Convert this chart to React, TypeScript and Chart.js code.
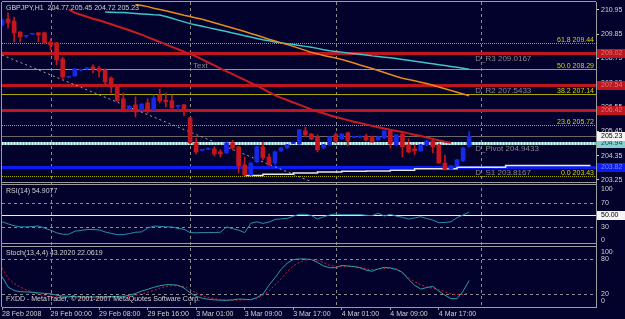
import React, { useEffect, useRef } from 'react';
import { Chart, registerables } from 'chart.js';

Chart.register(...registerables);

// ---------------- data ----------------
const SYMBOL = 'GBPJPY,H1';

const OPEN = [210.27, 210.54, 210.45, 209.95, 209.76, 209.85, 209.91, 209.91, 209.50, 209.46,
  208.73, 207.90, 207.96, 208.22, 208.28, 208.37, 208.32, 208.23, 207.87, 207.46,
  206.92, 206.47, 206.65, 206.42, 206.74, 206.42, 207.10, 206.87, 206.83, 206.58,
  206.65, 206.06, 204.93, 204.59, 204.64, 204.66, 204.52, 204.47, 204.93, 204.75,
  203.93, 203.48, 204.07, 204.75, 204.29, 204.02, 204.56, 204.70, 204.91, 204.88,
  205.47, 205.33, 205.20, 204.70, 204.84, 205.29, 205.11, 205.38, 205.18, 205.19,
  205.24, 205.20, 205.06, 205.15, 205.47, 204.84, 205.33, 204.84, 204.66, 204.56,
  204.84, 205.02, 204.84, 204.02, 203.75, 203.89, 204.11, 204.77];
const HIGH = [210.54, 210.81, 210.63, 209.97, 209.80, 209.88, 209.93, 209.95, 209.64, 209.47,
  208.82, 207.96, 208.30, 208.27, 208.34, 208.46, 208.41, 208.28, 207.92, 207.50,
  207.19, 206.62, 207.01, 206.71, 206.92, 207.10, 207.37, 207.19, 207.10, 206.64,
  206.67, 206.08, 205.15, 204.65, 204.70, 204.75, 204.61, 204.95, 205.06, 204.79,
  204.29, 204.04, 204.77, 204.97, 204.43, 204.56, 204.72, 204.86, 204.96, 205.54,
  205.65, 205.36, 205.29, 204.86, 205.22, 205.38, 205.35, 205.42, 205.23, 205.24,
  205.33, 205.22, 205.22, 205.49, 205.52, 205.31, 205.42, 205.11, 204.84, 204.86,
  205.04, 205.15, 204.88, 204.38, 203.91, 204.18, 204.72, 205.45];
const LOW = [210.22, 210.13, 209.50, 209.50, 209.70, 209.83, 209.50, 209.41, 209.14, 208.46,
  207.78, 207.88, 207.94, 208.20, 208.26, 208.10, 207.92, 207.55, 207.19, 206.81,
  206.33, 206.45, 206.10, 206.40, 206.28, 206.40, 206.74, 206.56, 206.49, 206.42,
  206.15, 204.88, 204.43, 204.57, 204.62, 204.34, 204.29, 204.45, 204.61, 203.57,
  203.43, 203.46, 204.05, 204.16, 203.89, 203.93, 204.54, 204.68, 204.89, 204.86,
  205.20, 205.08, 204.52, 204.68, 204.82, 204.93, 205.09, 204.79, 205.16, 205.17,
  205.02, 204.95, 205.04, 205.13, 204.70, 204.82, 204.29, 204.47, 204.38, 204.54,
  204.82, 204.47, 204.00, 203.70, 203.73, 203.87, 204.09, 204.72];
const CLOSE = [210.50, 210.36, 209.91, 209.73, 209.78, 209.87, 209.82, 209.46, 209.36, 208.69,
  207.92, 207.94, 208.28, 208.25, 208.32, 208.28, 208.19, 207.69, 207.46, 206.83,
  206.42, 206.60, 206.33, 206.69, 206.42, 206.96, 206.83, 206.78, 206.51, 206.62,
  206.42, 204.93, 204.52, 204.63, 204.68, 204.43, 204.43, 204.93, 204.70, 203.89,
  203.48, 204.02, 204.75, 204.25, 203.93, 204.52, 204.70, 204.84, 204.94, 205.52,
  205.29, 205.11, 204.61, 204.84, 205.20, 205.02, 205.33, 205.02, 205.21, 205.22,
  205.06, 204.97, 205.20, 205.47, 204.88, 205.29, 204.75, 204.52, 204.56, 204.84,
  205.02, 204.75, 204.02, 203.75, 203.89, 204.16, 204.70, 205.23];

const X_TICK_BARS = [0, 8, 16, 24, 32, 40, 48, 56, 64, 72];
const X_TICK_LABELS = ['28 Feb 2008', '29 Feb 00:00', '29 Feb 08:00', '29 Feb 16:00', '3 Mar 01:00',
  '3 Mar 09:00', '3 Mar 17:00', '4 Mar 01:00', '4 Mar 09:00', '4 Mar 17:00'];
const SEPARATOR_BARS = [8, 31, 55, 79];
const PRICE_TICKS = [203.25, 204.35, 205.45, 206.55, 207.65, 208.75, 209.85, 210.95];

const MA_RED_START = 11;
const MA_RED = [210.98, 210.82, 210.73, 210.64, 210.55, 210.48, 210.39, 210.30, 210.21, 210.12,
  210.03, 209.93, 209.83, 209.72, 209.61, 209.50, 209.39, 209.28, 209.17, 209.06,
  208.95, 208.84, 208.71, 208.57, 208.44, 208.30, 208.17, 208.04, 207.91, 207.78,
  207.65, 207.52, 207.38, 207.23, 207.08, 206.97, 206.87, 206.76, 206.66, 206.55,
  206.44, 206.35, 206.27, 206.18, 206.10, 206.03, 205.96, 205.89, 205.83, 205.76,
  205.70, 205.64, 205.58, 205.52, 205.47, 205.42, 205.36, 205.30, 205.24, 205.17,
  205.11, 205.04, 204.98, 204.94];
const MA_ORANGE_START = 22;
const MA_ORANGE = [211.20, 211.15, 211.10, 211.03, 210.97, 210.91, 210.85, 210.78, 210.71, 210.65,
  210.59, 210.53, 210.45, 210.37, 210.29, 210.21, 210.13, 210.05, 209.97, 209.88,
  209.80, 209.71, 209.62, 209.54, 209.46, 209.38, 209.30, 209.21, 209.12, 209.03,
  208.96, 208.89, 208.83, 208.77, 208.71, 208.63, 208.55, 208.46, 208.38, 208.30,
  208.21, 208.12, 208.03, 207.94, 207.86, 207.80, 207.74, 207.68, 207.62, 207.54,
  207.46, 207.38, 207.30, 207.22, 207.14, 207.06];
const MA_CYAN_START = 17;
const MA_CYAN = [210.86, 210.85, 210.84, 210.83, 210.81, 210.79, 210.77, 210.75, 210.73, 210.72,
  210.65, 210.57, 210.49, 210.41, 210.33, 210.27, 210.21, 210.15, 210.09, 210.03,
  209.97, 209.91, 209.85, 209.78, 209.72, 209.66, 209.60, 209.55, 209.50, 209.46,
  209.42, 209.38, 209.34, 209.30, 209.26, 209.21, 209.15, 209.10, 209.07, 209.04,
  209.00, 208.97, 208.94, 208.91, 208.87, 208.84, 208.81, 208.78, 208.75, 208.71,
  208.67, 208.63, 208.59, 208.55, 208.51, 208.47, 208.43, 208.39, 208.35, 208.31, 208.27];
const STEP_START = 40;
const STEP_LINE = [203.45, 203.45, 203.45, 203.45,
  203.51, 203.51, 203.51, 203.51, 203.51,
  203.57, 203.57, 203.57, 203.57,
  203.61, 203.61, 203.61, 203.61,
  203.64, 203.64, 203.64, 203.64,
  203.66, 203.66, 203.66, 203.66,
  203.69, 203.69, 203.69, 203.69,
  203.76, 203.76, 203.76, 203.76, 203.76, 203.76, 203.76,
  203.83, 203.83, 203.83, 203.83, 203.83, 203.83, 203.83, 203.83,
  203.91, 203.91, 203.91, 203.91, 203.91, 203.91, 203.91, 203.91, 203.91, 203.91, 203.91, 203.91, 203.91, 203.91];
const TREND_BARS = [0, 51];
const TREND_PRICES = [208.91, 203.17];

const PIVOT_NAMES = ['D_R3', 'D_R2', 'D_R1', 'D_Pivot', 'D_S1'];
const PIVOT_VALUES = [209.0167, 207.5433, 206.4167, 204.9433, 203.8167];
const PIVOT_LABELLED = ['D_R3', 'D_R2', 'D_Pivot', 'D_S1'];
const PIVOT_LABEL_BAR = 78;
const FIB_NAMES = ['61.8', '50.0', '38.2', '23.6', '0.0'];
const FIB_VALUES = [209.44, 208.29, 207.14, 205.72, 203.43];
const BID = 205.23;
const NOTE_TEXT = 'Text';
const NOTE_BAR = 31.5;
const NOTE_PRICE = 208.41;

const RSI_NAME = 'RSI(14)';
const RSI = [38.6, 35, 32, 30, 30, 30.5, 31.5, 28, 24.4, 20,
  17.6, 17.6, 22.7, 24, 25.5, 25.5, 25, 21.5, 19, 17,
  17, 18.7, 21, 21.5, 28, 31.2, 31, 30, 30, 27.2,
  26, 20.4, 20, 20.4, 20.4, 20.5, 21, 30, 27, 24.4,
  20.4, 36, 38.6, 35.8, 38, 42.6, 43.5, 44.3, 48, 51.2,
  51.2, 49, 43.2, 47, 50, 51.8, 50.6, 50.6, 50.6, 50.6,
  49.5, 48.9, 52.9, 48.3, 51.2, 48, 46.1, 43.2, 45, 47.2,
  44, 41.5, 36.9, 37.5, 38.6, 45.5, 50, 54.9077];
const RSI_LEVELS = [70, 30];
const RSI_MID = 50;
const RSI_EDGE_LABELS = ['100', '0'];

const STOCH_NAME = 'Stoch(13,4,4)';
const STOCH_K = [50, 32, 26, 24, 23.5, 23, 22, 21, 20.5, 18,
  16.5, 16, 15.5, 15, 15, 15, 15, 15, 15.5, 16,
  16, 18, 21, 25, 28, 31.5, 34, 36, 36, 35,
  30.3, 22, 16, 13, 11, 10, 9.5, 9.2, 10, 11.5,
  11, 10.3, 14, 20, 35, 48, 62, 73, 79, 80,
  80, 79, 74, 68, 65, 65, 69, 68, 67, 65,
  61, 59, 63, 65.7, 64.6, 62, 57, 45, 35, 28.6,
  31, 33.2, 25, 18, 12, 12, 25, 43.2020];
const STOCH_D = [64.6, 47.5, 38, 32, 27, 23, 20, 17, 16, 15,
  14.5, 14, 13.5, 13.2, 13.2, 13.2, 13.2, 13.5, 14, 14.5,
  15, 16, 18, 20.5, 23, 26, 30, 33, 34.3, 34,
  33, 28, 21.7, 17, 14, 12, 10.5, 9.5, 9.2, 9.5,
  10, 10.5, 11.5, 18, 25, 36, 46, 58, 68, 74,
  78, 79, 77, 74, 69, 67, 67, 67.4, 67.4, 66,
  63, 62, 62.5, 63.5, 64.6, 63, 56, 48, 41, 36,
  32, 30, 27.4, 24, 20, 18.9, 19.5, 22.0619];
const STOCH_LEVELS = [80, 20];
const STOCH_EDGE_LABELS = ['100', '0'];

const COPYRIGHT = 'FXDD - MetaTrader, \u00A9 2001-2007 MetaQuotes Software Corp.';

// ---------------- styles ----------------
const BG = '#02022C';
const FONT = '"Liberation Sans", Arial, sans-serif';
const FONT_FAMILY = 'Liberation Sans';
const TEXT = '#D2D2D2';
const BORDER = '#9C9C9C';
const GRID = '#8C8C8C';
const BEAR = '#C4161F';
const BULL = '#1628E8';
const RED_LINE = '#BE1620';
const FIB_COLOR = '#A8A800';
const FIB_TEXT = '#D4D400';
const FIB_DASH = [[1, 1], [], [], [1, 1], [1, 1]];
const PIVOT_COLORS = [RED_LINE, RED_LINE, RED_LINE, '#86CFCF', '#0C1CF0'];
const PIVOT_BOX_TEXT = ['#E07878', '#E07878', '#E07878', '#1E4A4A', '#7C84FF'];
const PIVOT_LABEL_COLOR = '#8A8A8A';

function pts(start: number, vals: number[]) {
  return vals.map((v, k) => ({ x: start + k, y: v }));
}

const mtPlugin = {
  id: 'mt4',
  beforeDraw(chart: any) {
    const { ctx, width, height } = chart;
    ctx.save();
    ctx.fillStyle = BG;
    ctx.fillRect(0, 0, width, height);
    ctx.restore();
  },
  beforeDatasetsDraw(chart: any) {
    const { ctx, chartArea: ca, scales } = chart;
    const x = scales.x, y = scales.y, r = scales.rsi, s = scales.stoch;
    const L = ca.left, R = ca.right;
    const hline = (py: number, color: string, w: number, dash: number[]) => {
      const yy = w % 2 === 1 ? Math.round(py) + 0.5 : Math.round(py);
      ctx.beginPath();
      ctx.strokeStyle = color;
      ctx.lineWidth = w;
      ctx.setLineDash(dash);
      ctx.moveTo(L, yy);
      ctx.lineTo(R, yy);
      ctx.stroke();
    };
    ctx.save();
    ctx.beginPath();
    ctx.rect(L, ca.top, R - L, ca.bottom - ca.top);
    ctx.clip();
    // day separators
    ctx.strokeStyle = GRID;
    ctx.lineWidth = 1;
    ctx.setLineDash([3, 3]);
    for (const b of SEPARATOR_BARS) {
      const px = Math.round(x.getPixelForValue(b)) + 0.5;
      ctx.beginPath();
      ctx.moveTo(px, ca.top);
      ctx.lineTo(px, ca.bottom);
      ctx.stroke();
    }
    // indicator levels
    for (const v of RSI_LEVELS) hline(r.getPixelForValue(v), GRID, 1, [3, 3]);
    hline(r.getPixelForValue(RSI_MID), '#F0F0F0', 1, []);
    for (const v of STOCH_LEVELS) hline(s.getPixelForValue(v), GRID, 1, [3, 3]);
    // fibo levels
    FIB_VALUES.forEach((v, k) => hline(y.getPixelForValue(v), FIB_COLOR, 1, FIB_DASH[k]));
    // bid line
    hline(y.getPixelForValue(BID), '#6A6A6A', 1, []);
    // pivot levels
    PIVOT_VALUES.forEach((v, k) => {
      hline(y.getPixelForValue(v), PIVOT_COLORS[k], 3, []);
      if (PIVOT_NAMES[k] === 'D_Pivot') hline(y.getPixelForValue(v), '#E8F6F6', 3, [1, 2]);
    });
    ctx.restore();
  },
  afterDraw(chart: any) {
    const { ctx, chartArea: ca, scales, width } = chart;
    const x = scales.x, y = scales.y, r = scales.rsi, s = scales.stoch;
    ctx.save();
    ctx.setLineDash([]);
    ctx.lineWidth = 1;
    ctx.strokeStyle = BORDER;
    const seg = (x1: number, y1: number, x2: number, y2: number) => {
      ctx.beginPath();
      ctx.moveTo(x1, y1);
      ctx.lineTo(x2, y2);
      ctx.stroke();
    };
    const yMainBot = Math.round(y.bottom);
    const yRsiBot = Math.round(r.bottom);
    seg(ca.left, ca.top - 0.5, ca.right, ca.top - 0.5);
    seg(ca.left - 0.5, ca.top, ca.left - 0.5, ca.bottom);
    seg(ca.right + 0.5, ca.top, ca.right + 0.5, ca.bottom + 1);
    seg(ca.left, yMainBot - 1.5, ca.right, yMainBot - 1.5);
    seg(ca.left, yMainBot + 0.5, ca.right, yMainBot + 0.5);
    seg(ca.left, yRsiBot - 1.5, ca.right, yRsiBot - 1.5);
    seg(ca.left, yRsiBot + 1.5, ca.right, yRsiBot + 1.5);
    seg(ca.left, ca.bottom + 0.5, ca.right, ca.bottom + 0.5);

    // texts in panels
    ctx.textAlign = 'left';
    ctx.textBaseline = 'middle';
    ctx.fillStyle = TEXT;
    ctx.font = '7px ' + FONT;
    const n = CLOSE.length - 1;
    ctx.fillText(`${SYMBOL}  ${OPEN[n].toFixed(2)} ${HIGH[n].toFixed(2)} ${LOW[n].toFixed(2)} ${CLOSE[n].toFixed(2)}`, ca.left + 4, y.top + 6);
    ctx.fillText(`${RSI_NAME} ${RSI[n].toFixed(4)}`, ca.left + 4, r.top + 8);
    ctx.fillText(`${STOCH_NAME} ${STOCH_K[n].toFixed(4)} ${STOCH_D[n].toFixed(4)}`, ca.left + 4, s.top + 8.5);
    ctx.fillText(COPYRIGHT, ca.left + 4, s.bottom - 7.5);

    // fibo labels
    ctx.save();
    ctx.beginPath();
    ctx.rect(ca.left, ca.top, ca.right - ca.left, ca.bottom - ca.top);
    ctx.clip();
    ctx.fillStyle = FIB_TEXT;
    ctx.textAlign = 'right';
    ctx.textBaseline = 'bottom';
    FIB_VALUES.forEach((v, k) => {
      ctx.fillText(`${FIB_NAMES[k]} ${v.toFixed(2)}`, ca.right - 2, Math.round(y.getPixelForValue(v)) + 0.5);
    });
    // pivot labels
    ctx.font = '8px ' + FONT;
    ctx.fillStyle = PIVOT_LABEL_COLOR;
    ctx.textAlign = 'left';
    ctx.textBaseline = 'top';
    PIVOT_VALUES.forEach((v, k) => {
      if (!PIVOT_LABELLED.includes(PIVOT_NAMES[k])) return;
      ctx.fillText(`${PIVOT_NAMES[k]} ${v.toFixed(4)}`, x.getPixelForValue(PIVOT_LABEL_BAR), Math.round(y.getPixelForValue(v)) + 1.5);
    });
    ctx.textBaseline = 'middle';
    ctx.fillText(NOTE_TEXT, x.getPixelForValue(NOTE_BAR), y.getPixelForValue(NOTE_PRICE));
    ctx.restore();

    // right axis price boxes
    ctx.font = '7px ' + FONT;
    ctx.textAlign = 'left';
    ctx.textBaseline = 'middle';
    const box = (py: number, fill: string, tc: string, text: string) => {
      const top = Math.round(py) - 4;
      ctx.fillStyle = fill;
      ctx.fillRect(ca.right + 1, top, width - ca.right - 1, 9);
      ctx.fillStyle = tc;
      ctx.fillText(text, ca.right + 5, top + 4.5);
    };
    PIVOT_VALUES.forEach((v, k) => box(y.getPixelForValue(v), PIVOT_COLORS[k], PIVOT_BOX_TEXT[k], v.toFixed(2)));
    box(y.getPixelForValue(BID), '#F4F4F4', '#000000', BID.toFixed(2));
    box(r.getPixelForValue(RSI_MID), '#F4F4F4', '#000000', RSI_MID.toFixed(2));

    // edge labels of indicator panels
    ctx.fillStyle = TEXT;
    ctx.fillText(RSI_EDGE_LABELS[0], ca.right + 5, r.top + 6);
    ctx.fillText(RSI_EDGE_LABELS[1], ca.right + 5, r.bottom - 5);
    ctx.fillText(STOCH_EDGE_LABELS[0], ca.right + 5, s.top + 7);
    ctx.fillText(STOCH_EDGE_LABELS[1], ca.right + 5, s.bottom - 6);
    ctx.restore();
  },
};

const tickFont = { family: FONT_FAMILY, size: 7 };
const fitRight = (sc: any) => {
  sc.width = 29;
  sc.paddingTop = 0;
  sc.paddingBottom = 0;
};

export default function App() {
  const ref = useRef<HTMLCanvasElement>(null);
  useEffect(() => {
    document.body.style.margin = '0';
    document.body.style.background = BG;
    const idx = CLOSE.map((_, i) => i);
    const candleColors = idx.map((i) => (CLOSE[i] >= OPEN[i] ? BULL : BEAR));
    const chart = new Chart(ref.current as HTMLCanvasElement, {
      type: 'line',
      data: {
        datasets: [
          {
            type: 'bar', label: 'body', yAxisID: 'y', order: 1,
            data: idx.map((i) => ({ x: i, y: [OPEN[i], CLOSE[i]] })) as any,
            backgroundColor: candleColors, barThickness: 4, grouped: false, minBarLength: 1, borderWidth: 0,
          } as any,
          {
            type: 'bar', label: 'wick', yAxisID: 'y', order: 2,
            data: idx.map((i) => ({ x: i, y: [LOW[i], HIGH[i]] })) as any,
            backgroundColor: candleColors, barThickness: 1, grouped: false, borderWidth: 0,
          } as any,
          {
            label: 'ma red', yAxisID: 'y', order: 3, data: pts(MA_RED_START, MA_RED),
            borderColor: '#C81C22', borderWidth: 2, pointRadius: 0, tension: 0,
          },
          {
            label: 'ma orange', yAxisID: 'y', order: 4, data: pts(MA_ORANGE_START, MA_ORANGE),
            borderColor: '#E88A1C', borderWidth: 1.5, pointRadius: 0, tension: 0,
          },
          {
            label: 'ma cyan', yAxisID: 'y', order: 5, data: pts(MA_CYAN_START, MA_CYAN),
            borderColor: '#3EC4C8', borderWidth: 1.5, pointRadius: 0, tension: 0,
          },
          {
            label: 'step', yAxisID: 'y', order: 6, data: pts(STEP_START, STEP_LINE),
            borderColor: '#E8E8E8', borderWidth: 1.5, pointRadius: 0, stepped: 'after',
          },
          {
            label: 'trend', yAxisID: 'y', order: 7,
            data: TREND_BARS.map((b, k) => ({ x: b, y: TREND_PRICES[k] })),
            borderColor: '#A8A8A8', borderWidth: 1, borderDash: [2, 3], pointRadius: 0,
          },
          {
            label: 'rsi', yAxisID: 'rsi', order: 8, data: pts(0, RSI),
            borderColor: '#2A8FB0', borderWidth: 1, pointRadius: 0, tension: 0,
          },
          {
            label: 'stoch k', yAxisID: 'stoch', order: 9, data: pts(0, STOCH_K),
            borderColor: '#2C9EAA', borderWidth: 1, pointRadius: 0, tension: 0,
          },
          {
            label: 'stoch d', yAxisID: 'stoch', order: 10, data: pts(0, STOCH_D),
            borderColor: '#D0202A', borderWidth: 1, borderDash: [2, 2], pointRadius: 0, tension: 0,
          },
        ],
      },
      options: {
        responsive: false,
        animation: false,
        devicePixelRatio: 1,
        layout: { padding: { left: 2, top: 2, right: 0, bottom: 0 } },
        plugins: { legend: { display: false }, tooltip: { enabled: false }, title: { display: false } },
        events: [],
        scales: {
          x: {
            type: 'linear', position: 'bottom', min: 0, max: 97.9, offset: false,
            afterBuildTicks: (sc: any) => { sc.ticks = X_TICK_BARS.map((v) => ({ value: v })); },
            afterFit: (sc: any) => { sc.height = 12; sc.paddingLeft = 0; sc.paddingRight = 0; },
            ticks: {
              autoSkip: false, maxRotation: 0, minRotation: 0, align: 'start', padding: 0,
              color: TEXT, font: tickFont,
              callback: (_v: any, i: number) => X_TICK_LABELS[i],
            },
            grid: { display: true, drawOnChartArea: false, drawTicks: true, tickLength: 3, tickColor: BORDER, offset: false },
            border: { display: false },
          } as any,
          y: {
            type: 'linear', position: 'right', stack: 'panes', stackWeight: 181.5,
            min: 203.09, max: 211.31,
            afterBuildTicks: (sc: any) => { sc.ticks = PRICE_TICKS.map((v) => ({ value: v })); },
            afterFit: fitRight,
            ticks: { color: TEXT, font: tickFont, padding: 2, callback: (v: any) => Number(v).toFixed(2) },
            grid: { drawOnChartArea: false, drawTicks: true, tickLength: 3, tickColor: TEXT },
            border: { display: false },
          } as any,
          rsi: {
            type: 'linear', position: 'right', stack: 'panes', stackWeight: 61.5,
            min: -0.5, max: 103,
            afterBuildTicks: (sc: any) => { sc.ticks = RSI_LEVELS.map((v) => ({ value: v })); },
            afterFit: fitRight,
            ticks: { color: TEXT, font: tickFont, padding: 5, callback: (v: any) => String(v) },
            grid: { drawOnChartArea: false, drawTicks: false },
            border: { display: false },
          } as any,
          stoch: {
            type: 'linear', position: 'right', stack: 'panes', stackWeight: 62,
            min: -2.2, max: 103.9,
            afterBuildTicks: (sc: any) => { sc.ticks = STOCH_LEVELS.map((v) => ({ value: v })); },
            afterFit: fitRight,
            ticks: { color: TEXT, font: tickFont, padding: 5, callback: (v: any) => String(v) },
            grid: { drawOnChartArea: false, drawTicks: false },
            border: { display: false },
          } as any,
        },
      } as any,
      plugins: [mtPlugin],
    });
    return () => chart.destroy();
  }, []);
  return (
    <div style={{ width: 625, height: 319, background: BG }}>
      <canvas ref={ref} width={625} height={319} style={{ display: 'block' }} />
    </div>
  );
}
